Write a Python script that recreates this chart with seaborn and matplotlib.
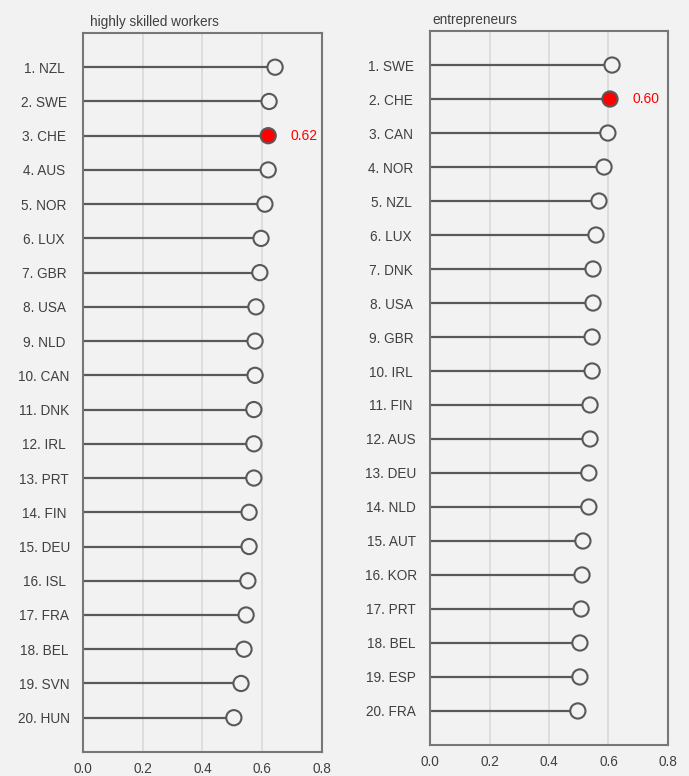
import numpy as np
import pandas as pd
import matplotlib
matplotlib.use("Agg")
import matplotlib.pyplot as plt
import seaborn as sns

# data
skilled_countries = ["NZL", "SWE", "CHE", "AUS", "NOR", "LUX", "GBR", "USA", "NLD", "CAN",
                     "DNK", "IRL", "PRT", "FIN", "DEU", "ISL", "FRA", "BEL", "SVN", "HUN"]
skilled_values = [0.643, 0.623, 0.62, 0.62, 0.609, 0.596, 0.592, 0.579, 0.576, 0.576,
                  0.572, 0.572, 0.572, 0.556, 0.556, 0.552, 0.546, 0.539, 0.529, 0.505]

entre_countries = ["SWE", "CHE", "CAN", "NOR", "NZL", "LUX", "DNK", "USA", "GBR", "IRL",
                   "FIN", "AUS", "DEU", "NLD", "AUT", "KOR", "PRT", "BEL", "ESP", "FRA"]
entre_values = [0.612, 0.605, 0.598, 0.585, 0.568, 0.558, 0.548, 0.548, 0.545, 0.545,
                0.538, 0.538, 0.534, 0.534, 0.514, 0.511, 0.508, 0.504, 0.504, 0.497]

highlight = "CHE"
titles = ["highly skilled workers", "entrepreneurs"]
x_ticks = [0.0, 0.2, 0.4, 0.6, 0.8]

bg = "#f2f2f2"
txt = "#404040"
edge = "#595959"

sns.set_style("white")
plt.rcParams["font.family"] = ["Liberation Sans Narrow", "Liberation Sans", "DejaVu Sans"]

fig = plt.figure(figsize=(6.89, 7.76), dpi=100, facecolor=bg)
ax1 = fig.add_axes([0.1205, 0.031, 0.3468, 0.9265])
ax2 = fig.add_axes([0.6241, 0.040, 0.3454, 0.920])

panels = [(ax1, skilled_countries, skilled_values, titles[0], 0.03),
          (ax2, entre_countries, entre_values, titles[1], 0.008)]

for ax, countries, values, title, tx in panels:
    df = pd.DataFrame({"country": countries, "value": values})
    df["label"] = [f"{i + 1}. {c}" for i, c in enumerate(df["country"])]
    df["pos"] = np.arange(len(df))
    ax.set_facecolor(bg)

    for x in x_ticks[1:-1]:
        ax.axvline(x, color="#d9d9d9", lw=1.2, zorder=0)

    ax.hlines(df["pos"], 0, df["value"], color=edge, lw=1.6, zorder=1)
    face = ["#ff0000" if c == highlight else bg for c in df["country"]]
    sns.scatterplot(data=df, x="value", y="pos", ax=ax, s=120, c=face,
                    edgecolor=edge, linewidth=1.5, zorder=3, legend=False)

    hi = df[df["country"] == highlight].iloc[0]
    ax.annotate(f"{hi['value']:.2f}", (hi["value"], hi["pos"]), xytext=(16, 0),
                textcoords="offset points", color="#ff0000", fontsize=10,
                va="center", ha="left")

    ax.set_xlim(0, 0.8)
    ax.set_ylim(len(df), -1)
    ax.set_xticks(x_ticks)
    ax.set_xticklabels([f"{x:.1f}" for x in x_ticks])
    ax.set_yticks(df["pos"])
    ax.set_yticklabels(df["label"])
    for lab in ax.get_yticklabels():
        lab.set_horizontalalignment("center")
    ax.tick_params(axis="y", length=0, pad=28, labelsize=9.8, labelcolor=txt)
    ax.tick_params(axis="x", length=4, width=1.2, color="#777777", direction="out",
                   labelsize=9.8, labelcolor=txt, pad=3)
    ax.set_xlabel("")
    ax.set_ylabel("")
    for s in ax.spines.values():
        s.set_color("#777777")
        s.set_linewidth(1.5)
    ax.set_title(title, loc="left", fontsize=9.8, color=txt, pad=5, x=tx)

fig.savefig("out.png", dpi=100, facecolor=bg)
